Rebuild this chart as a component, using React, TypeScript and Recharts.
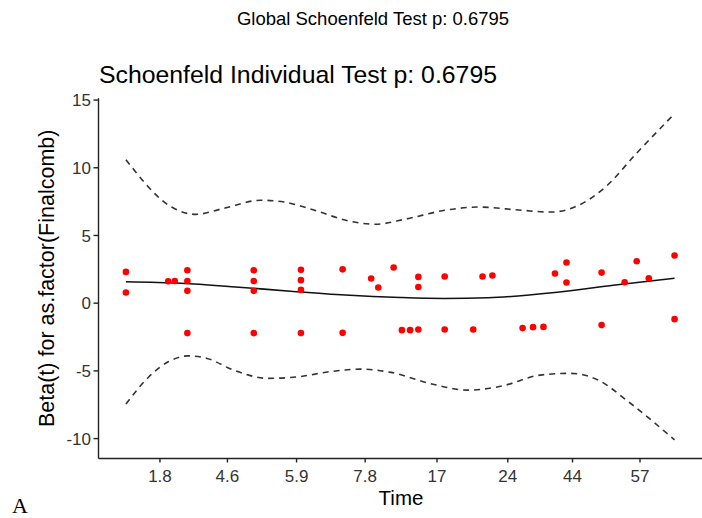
import {
  ComposedChart, Line, Scatter, XAxis, YAxis
} from "recharts";

// x is the transformed (rank) time scale, tick labels are the real times
const tickPos = [6.2, 18.5, 31.1, 43.6, 56.7, 69.6, 81.4, 93.7];
const tickLabels = ["1.8", "4.6", "5.9", "7.8", "17", "24", "44", "57"];
const yTicks = [-10, -5, 0, 5, 10, 15];

// scaled Schoenfeld residuals
const residTime = [
  0, 0, 7.7, 8.9, 11.2, 11.2, 11.2, 11.2, 23.3, 23.3, 23.3, 23.3,
  31.9, 31.9, 31.9, 31.9, 39.5, 39.5, 44.7, 46.0, 48.8, 50.3, 51.8,
  53.3, 53.3, 53.3, 58.1, 58.1, 63.3, 65.0, 66.8, 72.3, 74.2, 76.1,
  78.2, 80.3, 80.3, 86.7, 86.7, 90.9, 93.1, 95.3, 100, 100,
];
const residBeta = [
  2.31, 0.79, 1.62, 1.64, 2.43, 1.64, 0.91, -2.21, 2.43, 1.64, 0.91, -2.21,
  2.46, 1.7, 0.98, -2.21, 2.5, -2.19, 1.82, 1.16, 2.63, -1.99, -1.99,
  1.94, 1.2, -1.94, 1.97, -1.94, -1.94, 1.97, 2.04, -1.84, -1.77, -1.75,
  2.19, 3.0, 1.53, 2.26, -1.62, 1.55, 3.1, 1.84, 3.52, -1.18,
];

// smoothed beta(t)
const fitTime = [0, 10, 20, 30, 40, 50, 58, 66, 79, 90, 100];
const fitBeta = [1.58, 1.47, 1.2, 0.88, 0.6, 0.42, 0.35, 0.4, 0.83, 1.38, 1.84];

// confidence band
const upperTime = [0, 8.5, 12.7, 17.6, 24.6, 28.8, 34.4, 40.6, 45.5, 51.1, 58.1, 64.4, 72.1, 77.6, 82.5, 87.4, 93.0, 100];
const upperBeta = [10.6, 7.06, 6.56, 6.98, 7.6, 7.47, 6.86, 6.07, 5.83, 6.22, 6.86, 7.1, 6.86, 6.73, 7.23, 8.58, 11.04, 14.0];
const lowerTime = [0, 4.2, 7.7, 11.3, 14.8, 19.6, 25.9, 31.5, 37.1, 42.7, 48.3, 55.3, 62.3, 68.5, 75.5, 81.1, 86.1, 91.6, 100];
const lowerBeta = [-7.45, -5.43, -4.33, -3.89, -4.08, -4.94, -5.55, -5.43, -5.06, -4.87, -5.11, -5.92, -6.42, -6.12, -5.31, -5.18, -5.68, -7.28, -10.1];

const zip = (xs: number[], ys: number[]) => xs.map((x, i) => ({ x, y: ys[i] }));

const points = zip(residTime, residBeta);
const fit = zip(fitTime, fitBeta);
const upper = zip(upperTime, upperBeta);
const lower = zip(lowerTime, lowerBeta);

const FONT = "'Liberation Sans', Arial, sans-serif";
const AXIS = "#222";

const Dot = (props: any) => (
  <circle cx={props.cx} cy={props.cy} r={3.3} fill="#FF0000" />
);

export default function App() {
  return (
    <div style={{ position: "absolute", left: 0, top: 0, width: 702, height: 518, background: "#fff" }}>
      <ComposedChart
        width={702}
        height={518}
        margin={{ top: 98.3, right: 0, bottom: 0, left: 38.5 }}
      >
        <XAxis
          type="number"
          dataKey="x"
          domain={[-5, 105]}
          ticks={tickPos}
          tickFormatter={(v: number) => tickLabels[tickPos.indexOf(v)] ?? ""}
          allowDataOverflow
          height={59.5}
          tickSize={4}
          tickMargin={7.5}
          stroke={AXIS}
          strokeWidth={1.4}
          tick={{ fill: "#333", fontSize: 17, fontFamily: FONT }}
        />
        <YAxis
          type="number"
          dataKey="y"
          domain={[-11.47, 15.13]}
          ticks={yTicks}
          allowDataOverflow
          width={60}
          tickSize={5}
          tickMargin={2.5}
          stroke={AXIS}
          strokeWidth={1.4}
          tick={{ fill: "#333", fontSize: 17, fontFamily: FONT }}
        />
        <Line data={upper} dataKey="y" type="monotone" stroke="#333" strokeWidth={1.6}
          strokeDasharray="6 5" dot={false} isAnimationActive={false} />
        <Line data={lower} dataKey="y" type="monotone" stroke="#333" strokeWidth={1.6}
          strokeDasharray="6 5" dot={false} isAnimationActive={false} />
        <Line data={fit} dataKey="y" type="monotone" stroke="#111" strokeWidth={1.6}
          dot={false} isAnimationActive={false} />
        <Scatter data={points} dataKey="y" shape={<Dot />} isAnimationActive={false} />
      </ComposedChart>
      <svg
        width={702}
        height={518}
        style={{ position: "absolute", left: 0, top: 0, pointerEvents: "none" }}
      >
        <text x={373} y={25} textAnchor="middle" fontSize={18.5} fontFamily={FONT} fill="#000">
          Global Schoenfeld Test p: 0.6795
        </text>
        <text x={99} y={83} fontSize={24.8} fontFamily={FONT} fill="#000">
          Schoenfeld Individual Test p: 0.6795
        </text>
        <text
          x={54}
          y={278.3}
          transform="rotate(-90 54 278.3)"
          textAnchor="middle"
          fontSize={21.5}
          fontFamily={FONT}
          fill="#000"
        >
          Beta(t) for as.factor(Finalcomb)
        </text>
        <text x={401} y={505} textAnchor="middle" fontSize={20.5} fontFamily={FONT} fill="#000">
          Time
        </text>
        <text x={12} y={513} fontSize={22} fontFamily="'Liberation Serif', 'Times New Roman', serif" fill="#000">
          A
        </text>
      </svg>
    </div>
  );
}
